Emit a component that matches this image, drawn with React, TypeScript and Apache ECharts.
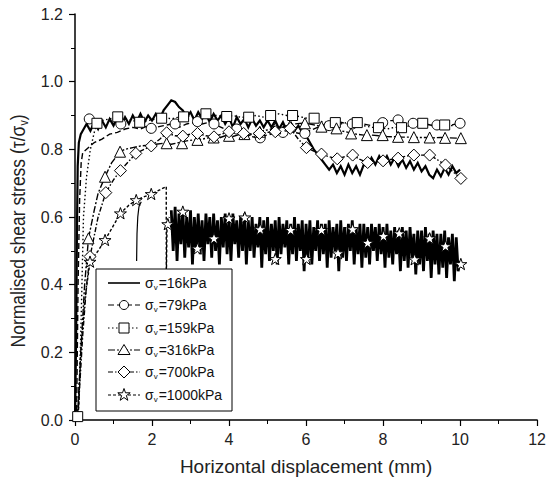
import React, { useEffect, useRef } from 'react';
import * as echarts from 'echarts';

const FONT = '"Liberation Sans", Arial, Helvetica, sans-serif';

// ---------- axis setup ----------
const xMin = 0, xMax = 12, xInterval = 2;
const yMin = 0, yMax = 1.2, yInterval = 0.2;
const xTitle = 'Horizontal displacement (mm)';
const yTitleMain = 'Normalised shear stress (τ/σ';
const yTitleSub = 'v';

// ---------- legend labels ----------
const legendLabels = ['16kPa', '79kPa', '159kPa', '316kPa', '700kPa', '1000kPa'];

// ---------- σv = 16 kPa (solid, no markers) ----------
const s16Rise: [number, number][] = [[0, 0], [0.03, 0.25], [0.05, 0.55], [0.07, 0.75], [0.1, 0.82], [0.15, 0.845]];
const s16NoiseStart = 0.2;
const s16NoiseStep = 0.1;
const s16Noise = [
  0.855, 0.875, 0.855, 0.88, 0.86, 0.885, 0.865, 0.89, 0.87,
  0.895, 0.87, 0.895, 0.875, 0.9, 0.88, 0.905, 0.88, 0.9, 0.885,
  0.905, 0.89, 0.915, 0.93, 0.945, 0.94, 0.925, 0.915, 0.895, 0.91,
  0.885, 0.91, 0.89, 0.905, 0.88, 0.905, 0.885, 0.9, 0.875, 0.895,
  0.865, 0.895, 0.875, 0.89, 0.865, 0.89, 0.87, 0.885, 0.865, 0.885,
  0.865, 0.885, 0.86, 0.88, 0.855, 0.875, 0.855, 0.87, 0.85, 0.84,
  0.82, 0.8, 0.785, 0.77, 0.755, 0.74, 0.755, 0.73, 0.75, 0.725,
  0.755, 0.73, 0.75, 0.725, 0.755, 0.75, 0.775, 0.755, 0.78, 0.76,
  0.78, 0.755, 0.775, 0.75, 0.77, 0.745, 0.765, 0.74, 0.76, 0.735,
  0.75, 0.725, 0.715, 0.74, 0.72, 0.745, 0.725, 0.75, 0.73, 0.74,
];

// ---------- σv = 79 kPa (dashed, circles) ----------
const s79Rise: [number, number][] = [[0.04, 0], [0.08, 0.4], [0.12, 0.65], [0.16, 0.76], [0.2, 0.79]];
const s79NoiseStart = 0.3;
const s79NoiseStep = 0.2;
const s79Noise = [
  0.8, 0.82, 0.83, 0.845, 0.85,
  0.86, 0.865, 0.86, 0.87, 0.865,
  0.87, 0.875, 0.865, 0.875, 0.88,
  0.875, 0.88, 0.87, 0.86, 0.855,
  0.85, 0.84, 0.835, 0.84, 0.845,
  0.85, 0.855, 0.85, 0.845, 0.855,
  0.865, 0.875, 0.87, 0.88, 0.875,
  0.88, 0.875, 0.87, 0.88, 0.885,
  0.885, 0.88, 0.875, 0.87, 0.875,
  0.87, 0.875, 0.87, 0.875,
];
const s79End: [number, number][] = [[10.0, 0.877]];
const s79Markers: [number, number][] = [
  [0.37, 0.89], [1.19, 0.875], [1.98, 0.862], [2.6, 0.875], [3.18, 0.882], [3.61, 0.875], [4.2, 0.86],
  [4.81, 0.834], [5.4, 0.85], [5.97, 0.847], [6.6, 0.87], [7.2, 0.875], [7.99, 0.879], [8.39, 0.887],
  [8.78, 0.877], [9.4, 0.872], [10.0, 0.877],
];

// ---------- σv = 159 kPa (dotted, squares) ----------
const s159Rise: [number, number][] = [
  [0.05, 0], [0.1, 0.05], [0.15, 0.25], [0.19, 0.45], [0.22, 0.6], [0.3, 0.72], [0.4, 0.8], [0.5, 0.85], [0.57, 0.877],
];
const s159NoiseStart = 0.7;
const s159NoiseStep = 0.2;
const s159Noise = [
  0.885, 0.89, 0.895, 0.89, 0.885,
  0.88, 0.885, 0.89, 0.895, 0.89,
  0.895, 0.9, 0.895, 0.905, 0.9,
  0.9, 0.895, 0.9, 0.895, 0.895,
  0.9, 0.895, 0.9, 0.905, 0.9,
  0.9, 0.895, 0.89, 0.885, 0.88,
  0.88, 0.875, 0.88, 0.875, 0.87,
  0.865, 0.865, 0.86, 0.865, 0.865,
  0.87, 0.875, 0.875, 0.87, 0.87,
  0.87, 0.87,
];
const s159End: [number, number][] = [[10.0, 0.87]];
const s159Markers: [number, number][] = [
  [0.07, 0.01], [0.57, 0.877], [1.11, 0.896], [1.68, 0.88], [2.25, 0.892], [2.82, 0.896], [3.4, 0.905],
  [3.94, 0.897], [4.51, 0.895], [5.08, 0.9], [5.65, 0.9], [6.21, 0.892], [6.76, 0.879], [7.33, 0.879],
  [7.88, 0.864], [8.48, 0.864], [9.03, 0.877], [9.6, 0.872],
];

// ---------- σv = 316 kPa (dash-dot, triangles) ----------
const s316Rise: [number, number][] = [
  [0.06, 0], [0.15, 0.2], [0.25, 0.4], [0.35, 0.537], [0.5, 0.62], [0.6, 0.67], [0.78, 0.719], [0.95, 0.76], [1.17, 0.793],
];
const s316NoiseStart = 1.3;
const s316NoiseStep = 0.2;
const s316Noise = [
  0.8, 0.805, 0.81, 0.812, 0.815,
  0.818, 0.815, 0.82, 0.825, 0.828,
  0.83, 0.835, 0.832, 0.84, 0.838,
  0.845, 0.84, 0.85, 0.855, 0.86,
  0.865, 0.87, 0.875, 0.877, 0.875,
  0.87, 0.865, 0.86, 0.855, 0.85,
  0.845, 0.842, 0.842, 0.84, 0.838,
  0.837, 0.836, 0.836, 0.835, 0.835,
  0.834, 0.835, 0.834, 0.833,
];
const s316End: [number, number][] = [[10.02, 0.833]];
const s316Markers: [number, number][] = [
  [0.35, 0.537], [0.78, 0.719], [1.17, 0.793], [2.38, 0.818], [2.78, 0.818], [3.18, 0.828], [3.6, 0.835],
  [4.0, 0.84], [4.4, 0.845], [4.8, 0.852], [5.2, 0.862], [5.59, 0.87], [5.97, 0.877], [6.4, 0.867],
  [6.79, 0.862], [7.17, 0.847], [7.58, 0.842], [7.99, 0.842], [8.39, 0.837], [8.8, 0.836], [9.21, 0.835],
  [9.61, 0.834], [10.02, 0.833],
];

// ---------- σv = 700 kPa (dash-dot, diamonds) ----------
const s700Line: [number, number][] = [
  [0.07, 0], [0.2, 0.25], [0.3, 0.4], [0.39, 0.483], [0.6, 0.6], [0.8, 0.672], [1.0, 0.71], [1.18, 0.737],
  [1.4, 0.765], [1.58, 0.788], [1.8, 0.8], [1.98, 0.81], [2.2, 0.83], [2.38, 0.849], [2.6, 0.84], [2.8, 0.839],
  [3.0, 0.845], [3.18, 0.847], [3.4, 0.84], [3.61, 0.837], [3.8, 0.845], [4.0, 0.852], [4.2, 0.848],
  [4.38, 0.847], [4.6, 0.845], [4.79, 0.847], [5.0, 0.85], [5.2, 0.852], [5.4, 0.858], [5.59, 0.862],
  [5.8, 0.83], [6.01, 0.805], [6.2, 0.795], [6.4, 0.786], [6.6, 0.778], [6.81, 0.772], [7.0, 0.778],
  [7.21, 0.783], [7.4, 0.77], [7.6, 0.761], [7.8, 0.763], [8.0, 0.766], [8.2, 0.77], [8.39, 0.774],
  [8.6, 0.78], [8.8, 0.783], [9.0, 0.783], [9.21, 0.783], [9.4, 0.77], [9.62, 0.754], [9.8, 0.735], [10.02, 0.714],
];
const s700Markers: [number, number][] = [
  [0.39, 0.483], [0.8, 0.672], [1.18, 0.737], [1.58, 0.788], [1.98, 0.81], [2.38, 0.849], [2.8, 0.839],
  [3.18, 0.847], [3.61, 0.837], [4.0, 0.852], [4.38, 0.847], [4.79, 0.847], [5.2, 0.852], [5.59, 0.862],
  [6.01, 0.805], [6.4, 0.786], [6.81, 0.772], [7.21, 0.783], [7.6, 0.761], [8.0, 0.766], [8.39, 0.774],
  [8.8, 0.783], [9.21, 0.783], [9.62, 0.754], [10.02, 0.714],
];

// ---------- σv = 1000 kPa (short dash, stars) ----------
const s1000Rise: [number, number][] = [
  [0.08, 0], [0.15, 0.2], [0.25, 0.35], [0.39, 0.468], [0.6, 0.5], [0.78, 0.532], [1.0, 0.575], [1.18, 0.611],
  [1.4, 0.635], [1.59, 0.65], [1.8, 0.66], [1.98, 0.668], [2.2, 0.68], [2.37, 0.69], [2.37, 0.4], [2.39, 0.576], [2.45, 0.6],
];
const s1000Reload: [number, number][] = [[1.6, 0.47], [1.61, 0.55], [1.63, 0.6], [1.66, 0.63], [1.72, 0.645]];
const s1000NoiseStart = 2.5;
const s1000NoiseStep = 0.05;
const s1000Noise = [
  0.62, 0.5, 0.63, 0.47, 0.61, 0.52, 0.62, 0.48, 0.6, 0.51,
  0.62, 0.46, 0.6, 0.5, 0.61, 0.49, 0.59, 0.47, 0.61, 0.52,
  0.6, 0.48, 0.61, 0.5, 0.59, 0.46, 0.6, 0.51, 0.61, 0.49,
  0.6, 0.47, 0.61, 0.52, 0.59, 0.48, 0.6, 0.5, 0.61, 0.46,
  0.59, 0.5, 0.6, 0.48, 0.58, 0.51, 0.6, 0.45, 0.59, 0.49,
  0.6, 0.47, 0.58, 0.5, 0.59, 0.46, 0.6, 0.49, 0.58, 0.51,
  0.59, 0.46, 0.58, 0.49, 0.6, 0.47, 0.58, 0.5, 0.59, 0.44,
  0.58, 0.48, 0.59, 0.46, 0.57, 0.5, 0.59, 0.47, 0.58, 0.49,
  0.58, 0.45, 0.59, 0.48, 0.57, 0.5, 0.58, 0.44, 0.59, 0.48,
  0.57, 0.47, 0.58, 0.5, 0.59, 0.46, 0.57, 0.49, 0.58, 0.45,
  0.58, 0.48, 0.57, 0.46, 0.58, 0.5, 0.57, 0.47, 0.58, 0.49,
  0.57, 0.45, 0.58, 0.48, 0.56, 0.46, 0.57, 0.49, 0.56, 0.44,
  0.57, 0.47, 0.56, 0.45, 0.57, 0.48, 0.55, 0.43, 0.56, 0.46,
  0.56, 0.44, 0.57, 0.47, 0.55, 0.42, 0.56, 0.46, 0.55, 0.43,
  0.55, 0.45, 0.56, 0.42, 0.54, 0.46, 0.55, 0.41, 0.54, 0.44,
  0.47,
];
const s1000Markers: [number, number][] = [
  [0.39, 0.468], [0.78, 0.532], [1.18, 0.611], [1.59, 0.65], [1.98, 0.668], [2.41, 0.579], [2.8, 0.616],
  [3.18, 0.507], [3.61, 0.537], [4.0, 0.596], [4.41, 0.599], [4.81, 0.564], [5.2, 0.476], [5.6, 0.562],
  [6.01, 0.476], [6.4, 0.562], [6.83, 0.493], [7.21, 0.564], [7.6, 0.524], [8.01, 0.544], [8.42, 0.552],
  [8.82, 0.475], [9.21, 0.537], [9.62, 0.514], [10.02, 0.461],
];

// ---------- helpers ----------
const seq = (start: number, step: number, ys: number[]): [number, number][] =>
  ys.map((y, i) => [Math.round((start + i * step) * 1000) / 1000, y]);

const STAR = 'path://M50,0 L61.8,34.5 L97.6,34.5 L68.8,56 L79.4,90.5 L50,69 L20.6,90.5 L31.2,56 L2.4,34.5 L38.2,34.5 Z';

const DASH = {
  d16: 'solid' as any,
  d79: [6, 3],
  d159: [1.5, 2.5],
  d316: [7, 2, 2, 2],
  d700: [5, 2, 1.5, 2],
  d1000: [3, 2],
};

const lineSeries = (data: [number, number][], type: any, width = 1.2, z = 2) => ({
  type: 'line',
  data,
  showSymbol: false,
  symbol: 'none',
  silent: true,
  z,
  lineStyle: { color: '#000', width, type, join: 'miter' },
  emphasis: { disabled: true },
});

const markerSeries = (data: [number, number][], symbol: string, size: number, z = 4) => ({
  type: 'scatter',
  data,
  symbol,
  symbolSize: size,
  symbolKeepAspect: true,
  silent: true,
  z,
  itemStyle: { color: '#fff', borderColor: '#000', borderWidth: 1, opacity: 1 },
  emphasis: { disabled: true },
});

// ---------- legend (graphic) ----------
const LX = 96, LY = 269, LW = 136, LH = 142;
const rowY = [283, 305, 328, 350, 372, 395];
const legendDash = [DASH.d16, DASH.d79, DASH.d159, DASH.d316, DASH.d700, DASH.d1000];

function legendSymbol(i: number, cx: number, cy: number): any {
  const style = { fill: '#fff', stroke: '#000', lineWidth: 1 };
  if (i === 1) return { type: 'circle', shape: { cx, cy, r: 4.5 }, style };
  if (i === 2) return { type: 'rect', shape: { x: cx - 5, y: cy - 5, width: 10, height: 10 }, style };
  if (i === 3) return { type: 'polygon', shape: { points: [[cx, cy - 5.5], [cx + 6, cy + 4.5], [cx - 6, cy + 4.5]] }, style };
  if (i === 4) return { type: 'polygon', shape: { points: [[cx, cy - 6], [cx + 6, cy], [cx, cy + 6], [cx - 6, cy]] }, style };
  if (i === 5)
    return {
      type: 'polygon',
      shape: {
        points: [
          [cx, cy - 6.5], [cx + 1.5, cy - 2.2], [cx + 6.2, cy - 2.2], [cx + 2.4, cy + 0.6], [cx + 3.8, cy + 5.3],
          [cx, cy + 2.5], [cx - 3.8, cy + 5.3], [cx - 2.4, cy + 0.6], [cx - 6.2, cy - 2.2], [cx - 1.5, cy - 2.2],
        ],
      },
      style,
    };
  return null;
}

function buildGraphics(): any[] {
  const els: any[] = [
    { type: 'rect', shape: { x: LX, y: LY, width: LW, height: LH }, style: { fill: '#fff', stroke: '#000', lineWidth: 1 }, z: 100 },
  ];
  legendLabels.forEach((lab, i) => {
    const y = rowY[i];
    els.push({
      type: 'line',
      shape: { x1: 108, y1: y, x2: 140, y2: y },
      style: { stroke: '#000', lineWidth: i === 0 ? 1.6 : 1.2, lineDash: i === 0 ? null : legendDash[i] },
      z: 101,
    });
    const sym = legendSymbol(i, 124, y);
    if (sym) els.push({ ...sym, z: 102 });
    els.push({
      type: 'text',
      x: 145,
      y,
      z: 103,
      style: {
        text: `{a|σ}{b|v}{a|=${lab}}`,
        verticalAlign: 'middle',
        fill: '#111',
        rich: {
          a: { fontSize: 14, fontFamily: FONT, fill: '#111', lineHeight: 16 },
          b: { fontSize: 8, fontFamily: FONT, fill: '#111', padding: [9, 1, 0, 0], lineHeight: 16 },
        },
      },
    });
  });
  // rotated y-axis title
  els.push({
    type: 'text',
    x: 18,
    y: 231,
    rotation: Math.PI / 2,
    scaleY: 1.15,
    z: 50,
    style: {
      text: `{m|${yTitleMain}}{v|${yTitleSub}}{m|)}`,
      align: 'center',
      verticalAlign: 'middle',
      fill: '#222',
      rich: {
        m: { fontSize: 17.5, fontFamily: FONT, fill: '#222', lineHeight: 21 },
        v: { fontSize: 10.5, fontFamily: FONT, fill: '#222', padding: [10, 0, 0, 0], lineHeight: 21 },
      },
    },
  });
  return els;
}

const option: any = {
  animation: false,
  backgroundColor: '#fff',
  grid: { left: 75, right: 8, top: 14, bottom: 65, containLabel: false },
  xAxis: {
    type: 'value',
    min: xMin,
    max: xMax,
    interval: xInterval,
    name: xTitle,
    nameLocation: 'middle',
    nameGap: 37,
    nameTextStyle: { fontSize: 19, fontFamily: FONT, color: '#222' },
    axisLine: { show: true, onZero: false, lineStyle: { color: '#000', width: 1.5 } },
    axisTick: { show: true, inside: false, length: 6, lineStyle: { color: '#000', width: 1.2 } },
    minorTick: { show: true, splitNumber: 2, length: 4, lineStyle: { color: '#000', width: 1 } },
    axisLabel: { fontSize: 16, fontFamily: FONT, color: '#222', margin: 11 },
    splitLine: { show: false },
  },
  yAxis: {
    type: 'value',
    min: yMin,
    max: yMax,
    interval: yInterval,
    axisLine: { show: true, onZero: false, lineStyle: { color: '#000', width: 1.5 } },
    axisTick: { show: true, inside: false, length: 6, lineStyle: { color: '#000', width: 1.2 } },
    minorTick: { show: true, splitNumber: 2, length: 4, lineStyle: { color: '#000', width: 1 } },
    axisLabel: { fontSize: 16, fontFamily: FONT, color: '#222', margin: 12, formatter: (v: number) => v.toFixed(1) },
    splitLine: { show: false },
  },
  series: [
    lineSeries([...s16Rise, ...seq(s16NoiseStart, s16NoiseStep, s16Noise)], DASH.d16, 2.2),
    lineSeries([...s79Rise, ...seq(s79NoiseStart, s79NoiseStep, s79Noise), ...s79End], DASH.d79, 1.4),
    lineSeries([...s159Rise, ...seq(s159NoiseStart, s159NoiseStep, s159Noise), ...s159End], DASH.d159, 1.4),
    lineSeries([...s316Rise, ...seq(s316NoiseStart, s316NoiseStep, s316Noise), ...s316End], DASH.d316, 1.4),
    lineSeries(s700Line, DASH.d700, 1.4),
    lineSeries(s1000Rise, DASH.d1000, 1.4),
    lineSeries(s1000Reload, 'solid', 1.2),
    lineSeries(seq(s1000NoiseStart, s1000NoiseStep, s1000Noise), 'solid', 2.8),
    markerSeries(s79Markers, 'circle', 10),
    markerSeries(s159Markers, 'rect', 10),
    markerSeries(s316Markers, 'triangle', 11),
    markerSeries(s700Markers, 'diamond', 12),
    markerSeries(s1000Markers, STAR, 12),
  ],
  graphic: buildGraphics(),
};

export default function App() {
  const ref = useRef<HTMLDivElement>(null);
  useEffect(() => {
    if (!ref.current) return;
    const chart = echarts.init(ref.current, null, { renderer: 'svg' });
    chart.setOption(option);
    return () => chart.dispose();
  }, []);
  return (
    <div
      ref={ref}
      style={{ position: 'fixed', left: 0, top: 0, width: 549, height: 485, background: '#fff' }}
    />
  );
}
